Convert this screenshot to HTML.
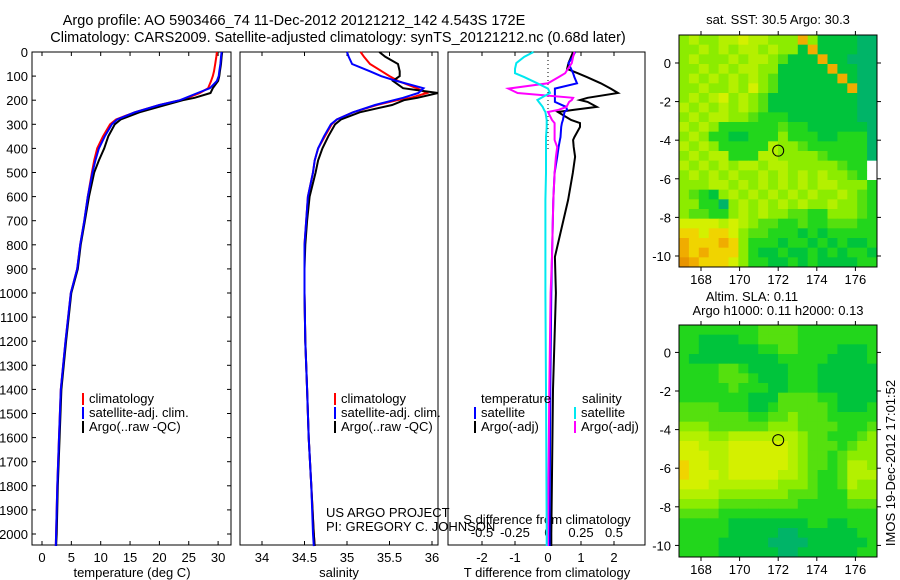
<!DOCTYPE html>
<html><head><meta charset="utf-8"><style>
body{margin:0;background:#fff}
svg{display:block;font-family:"Liberation Sans",sans-serif;font-size:13px}
</style></head><body>
<svg id="c" width="900" height="580" xmlns="http://www.w3.org/2000/svg">
<text x="294" y="25" text-anchor="middle" style="font-size:14.5px">Argo profile: AO 5903466_74 11-Dec-2012 20121212_142 4.543S 172E</text>
<text x="338" y="42" text-anchor="middle" style="font-size:14.5px">Climatology: CARS2009. Satellite-adjusted climatology: synTS_20121212.nc (0.68d later)</text>
<g id="g"></g>
</svg>
<script>
const depths=[0,20,50,80,100,120,150,170,190,200,220,250,280,300,350,400,450,500,600,700,800,900,1000,1200,1400,1600,1800,2000,2050];
const tClim=[29.8,29.7,29.5,29.3,29.1,28.8,28.3,26.9,24.8,23.5,20.0,15.8,12.6,11.6,10.4,9.4,8.9,8.5,7.8,7.2,6.5,6.0,4.9,4.0,3.2,2.9,2.6,2.4,2.35];
const tSat=[30.6,30.5,30.4,30.2,30.1,29.8,28.6,26.5,24.5,23.5,20.0,15.8,12.8,11.9,10.7,9.7,9.1,8.6,7.8,7.2,6.5,6.0,4.9,4.0,3.2,2.9,2.6,2.4,2.35];
const tArgo=[30.7,30.6,30.5,30.3,30.2,30.0,29.1,28.7,26.0,24.0,21.0,16.6,13.4,12.4,11.3,10.6,9.7,8.9,8.0,7.3,6.6,6.1,5.0,4.1,3.3,3.0,2.7,2.5,2.4];
const sClim=[35.16,35.20,35.27,35.41,35.50,35.60,35.82,35.94,35.75,35.59,35.35,35.07,34.88,34.82,34.74,34.66,34.62,34.60,34.54,34.52,34.50,34.50,34.50,34.51,34.53,34.55,34.58,34.61,34.62];
const sSat=[35.00,35.02,35.06,35.27,35.40,35.58,35.90,35.84,35.66,35.55,35.33,35.07,34.88,34.81,34.73,34.66,34.62,34.60,34.54,34.52,34.50,34.50,34.50,34.51,34.53,34.55,34.58,34.60,34.61];
const sArgo=[35.38,35.45,35.60,35.62,35.62,35.54,35.66,36.07,35.83,35.67,35.53,35.15,34.93,34.86,34.78,34.71,34.66,34.63,34.56,34.53,34.51,34.50,34.50,34.51,34.53,34.55,34.58,34.61,34.62];
const diffDepths=[0,20,46,70,88,104,130,152,170,190,199,207,228,240,249,282,295,311,353,365,394,435,502,614,850,1000,1400,2000,2050];
const dTSat=[0.82,0.75,0.62,0.70,0.76,0.80,0.88,0.21,0.21,0.21,0.21,0.21,0.55,0.58,0.50,0.45,0.42,0.40,0.38,0.36,0.32,0.28,0.20,0.16,0.12,0.10,0.07,0.05,0.05];
const dTArgo=[0.76,0.70,0.62,0.58,0.90,1.18,1.60,1.90,2.12,1.20,0.97,1.20,1.48,0.80,0.30,0.70,0.97,0.97,0.80,0.76,0.78,0.82,0.75,0.61,0.21,0.24,0.15,0.10,0.10];
const dSSat=[-0.11,-0.18,-0.24,-0.25,-0.25,-0.18,-0.08,0.0,0.015,-0.05,-0.08,-0.07,-0.04,-0.03,-0.02,-0.01,-0.01,-0.01,-0.015,-0.015,-0.015,-0.015,-0.015,-0.02,-0.02,-0.02,-0.015,-0.01,-0.01];
const dSArgo=[0.20,0.19,0.18,0.15,0.13,0.08,0.0,-0.30,-0.23,0.19,0.18,0.16,0.14,0.08,0.0,0.03,0.05,0.05,0.05,0.05,0.07,0.06,0.05,0.04,0.03,0.02,0.01,0.0,0.0];
const depthTicks=[0,100,200,300,400,500,600,700,800,900,1000,1100,1200,1300,1400,1500,1600,1700,1800,1900,2000];
const tTicks=[0,5,10,15,20,25,30];
const sTicks=[34,34.5,35,35.5,36];
const dtTicks=[-2,-1,0,1,2];
const dsTicks=[-0.5,-0.25,0,0.25,0.5];
const lonTicks=[168,170,172,174,176];
const latTicks=[0,-2,-4,-6,-8,-10];
const argoLon=172, argoLat=-4.543;
const sstGrid=[
"45445565544484111100","44545455454418111100","45444545543111811000","44545455441111181100",
"45454545431111118100","44544546431111111800","45456454311111111100","54545454311111111100",
"45455443222111111100","54542222223221111110","45422112224222112220","54542222254432222220",
"45455222554444322220","5454545545544444322w","4545454454545454432w","44455454545454554442",
"43214545454545445432","44220454545454454432","43322454544332244432","66665654332232233322",
"77677643322212122222","87778742221221212112","87877742112112121221","98777642211212111122"];
const slaGrid=[
"22222222333322222222","22111122333322222222","22111111223322221112","21111111112222211112",
"22223321111222111111","22223332111222111111","22222322211222111111","22222221113333221111",
"33332221123333321112","33333332233433322222","44433333344433332223","55544555555543322234",
"66555666666543332344","66655666666543323444","76655666666543323554","76665666665543223555",
"66655555554443223544","55554444444333222444","44443333333322222333","33332222222222222222",
"22222111111112211222","22222111110011111122","22221111100001111112","22221111110011111122"];
const pal={"0":"#00b468","1":"#00c43c","2":"#22d61c","3":"#55e00e","4":"#8cec00","5":"#b4f000","6":"#d4f000","7":"#f0d400","8":"#f0ac00","9":"#e89400","w":"#ffffff"};

const NS="http://www.w3.org/2000/svg";
const G=document.getElementById('g');
function mk(tag,at,parent){const e=document.createElementNS(NS,tag);for(const k in at)e.setAttribute(k,at[k]);(parent||G).appendChild(e);return e;}
function txt(x,y,s,anchor,parent){const t=mk('text',{x:x,y:y,'text-anchor':anchor||'start'},parent);t.textContent=s;return t;}
const top0=52,bot=545;
const yD=d=>top0+0.241*d;
const xT=v=>42+5.87*v, xS=v=>262+85*(v-34), xDT=v=>548+33*v, xDS=v=>548+132*v;

function panel(x0,x1,name){
  const r=mk('rect',{x:x0,y:top0,width:x1-x0,height:bot-top0,fill:'none',stroke:'#000','stroke-width':1});
  
  
}
function line(ds,vals,fx,color,name){
  const pts=ds.map((d,i)=>fx(vals[i]).toFixed(1)+','+yD(d).toFixed(1)).join(' ');
  const p=mk('polyline',{points:pts,fill:'none',stroke:color,'stroke-width':2});
  
  
}
function xticks(ticks,fx,labelY,name,top){
  ticks.forEach(v=>{
    const x=fx(v);
    mk('line',{x1:x,y1:bot,x2:x,y2:bot-4,stroke:'#000'});
    if(top) mk('line',{x1:x,y1:top0,x2:x,y2:top0+4,stroke:'#000'});
    const t=txt(x,labelY,String(v),'middle');
    
    
  });
}
panel(32,231,'temperature-panel');panel(240,438,'salinity-panel');panel(448,645,'difference-panel');
depthTicks.forEach(d=>{
  const y=yD(d);
  mk('line',{x1:32,y1:y,x2:36,y2:y,stroke:'#000'});
  mk('line',{x1:231,y1:y,x2:227,y2:y,stroke:'#000'});
  const t=txt(28,y+5,String(d),'end');
  
  
});
xticks(tTicks,xT,562,'temperature-tick-label',true);
xticks(sTicks,xS,562,'salinity-tick-label',true);
xticks(dtTicks,xDT,562,'t-diff-tick-label',true);
dsTicks.forEach(v=>{const t=txt(xDS(v),537,String(v),'middle');
  
  });
let a;
a=txt(132,577,'temperature (deg C)','middle');
a=txt(339,577,'salinity','middle');
a=txt(547,577,'T difference from climatology','middle');
a=txt(547,524,'S difference from climatology','middle');
mk('line',{x1:548,y1:top0,x2:548,y2:150,stroke:'#000','stroke-dasharray':'1,3'});
line(depths,tClim,xT,'#ff0000','temp-climatology-line');
line(depths,tArgo,xT,'#000000','temp-argo-line');
line(depths,tSat,xT,'#0000ff','temp-satellite-line');
line(depths,sClim,xS,'#ff0000','sal-climatology-line');
line(depths,sArgo,xS,'#000000','sal-argo-line');
line(depths,sSat,xS,'#0000ff','sal-satellite-line');
line(diffDepths,dTArgo,xDT,'#000000','tdiff-argo-line');
line(diffDepths,dTSat,xDT,'#0000ff','tdiff-satellite-line');
line(diffDepths,dSArgo,xDS,'#ff00ff','sdiff-argo-line');
line(diffDepths,dSSat,xDS,'#00e8f0','sdiff-satellite-line');
function legend(x,y,color,label,name){
  mk('rect',{x:x,y:y-10,width:2,height:12,fill:color});
  const t=txt(x+7,y,label,'start');
  
  
}
[[82,'temp'],[334,'sal']].forEach(([x,p])=>{
  legend(x,403,'#ff0000','climatology',p+'-legend-climatology');
  legend(x,417,'#0000ff','satellite-adj. clim.',p+'-legend-satellite');
  legend(x,431,'#000000','Argo(..raw -QC)',p+'-legend-argo');
});
a=txt(481,403,'temperature');
a=txt(582,403,'salinity');
legend(474,417,'#0000ff','satellite','tdiff-legend-satellite');
legend(474,431,'#000000','Argo(-adj)','tdiff-legend-argo');
legend(574,417,'#00e8f0','satellite','sdiff-legend-satellite');
legend(574,431,'#ff00ff','Argo(-adj)','sdiff-legend-argo');
a=txt(326,517,'US ARGO PROJECT');
a=txt(326,531,'PI: GREGORY C. JOHNSON');

function map(grid,mx0,my0,lonMin,latMax,name){
  const ppd=19.3, W=198, H=232;
  const rows=grid.length, cols=grid[0].length;
  const lx=v=>mx0+(v-lonMin)*ppd, ly=v=>my0+(latMax-v)*ppd;
  const g=mk('g',{});
  
  
  const cw=W/cols, ch=H/rows;
  grid.forEach((row,r)=>{for(let c=0;c<cols;c++){
    const cell=mk('rect',{x:(mx0+c*cw).toFixed(2),y:(my0+r*ch).toFixed(2),width:(cw+0.4).toFixed(2),height:(ch+0.4).toFixed(2),fill:pal[row[c]]},g);
    
    
  }});
  mk('rect',{x:mx0,y:my0,width:W,height:H,fill:'none',stroke:'#000'});
  lonTicks.forEach(v=>{const x=lx(v);
    mk('line',{x1:x,y1:my0,x2:x,y2:my0-4,stroke:'#000'});
    mk('line',{x1:x,y1:my0+H,x2:x,y2:my0+H+4,stroke:'#000'});
    const t=txt(x,my0+H+17,String(v),'middle');
    
    });
  latTicks.forEach(v=>{const y=ly(v);
    mk('line',{x1:mx0,y1:y,x2:mx0-4,y2:y,stroke:'#000'});
    mk('line',{x1:mx0+W,y1:y,x2:mx0+W+4,y2:y,stroke:'#000'});
    const t=txt(mx0-8,y+5,String(v),'end');
    
    });
  const c=mk('circle',{cx:lx(argoLon),cy:ly(argoLat),r:5.5,fill:'none',stroke:'#000'});
  
  
}
map(sstGrid,679,35,166.86,1.45,'sst-map');
map(slaGrid,679,325,166.86,1.42,'sla-map');
a=txt(778,24,'sat. SST: 30.5 Argo: 30.3','middle');
a=txt(752,301,'Altim. SLA: 0.11','middle');
a=txt(778,315,'Argo h1000: 0.11 h2000: 0.13','middle');
a=txt(0,0,'IMOS 19-Dec-2012 17:01:52','middle');a.setAttribute('transform','translate(895,463) rotate(-90)');

</script>
</body></html>
